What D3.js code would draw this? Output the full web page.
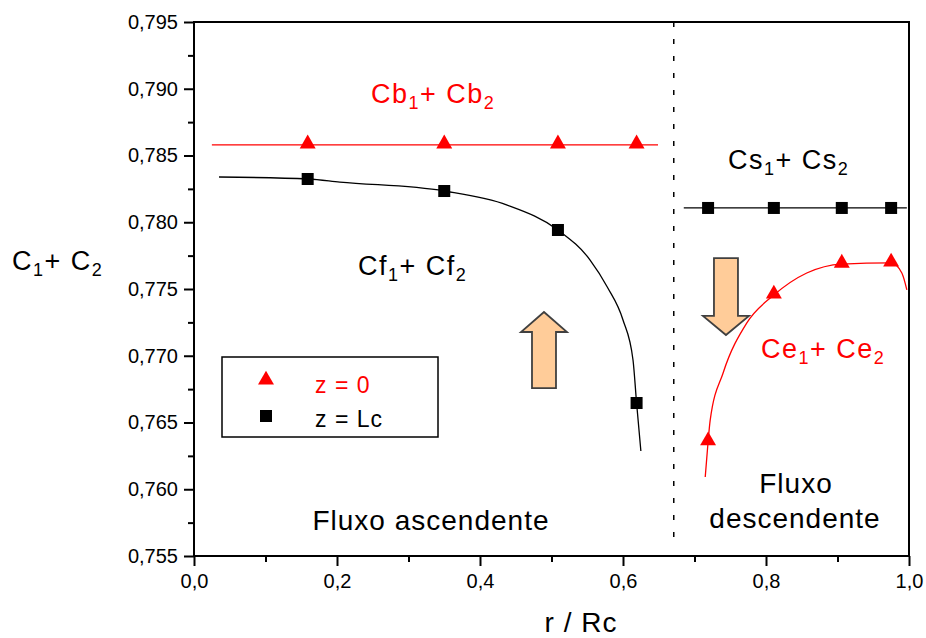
<!DOCTYPE html>
<html>
<head>
<meta charset="utf-8">
<script src="https://cdn.jsdelivr.net/npm/d3@7"></script>
<style>
  body { margin: 0; background: #fff; }
  svg { font-family: "Liberation Sans", Arial, sans-serif; }
</style>
</head>
<body>
<div id="chart"></div>
<script>
// measured points (r/Rc) and C1+C2 values
var rAsc = [0.159, 0.350, 0.509, 0.619];
var cbVals = [0.7858, 0.7858, 0.7858, 0.7858];
var cfVals = [0.78324, 0.78234, 0.77942, 0.76646];

var rDesc = [0.719, 0.811, 0.906, 0.975];
var csVals = [0.78107, 0.78107, 0.78107, 0.78107];
var ceVals = [0.76356, 0.77455, 0.77687, 0.77695];

// fitted curves as drawn in the figure
var cbFitX = [0.025, 0.649];
var cbFitY = [0.7858, 0.7858];
var cfFitX = [0.035, 0.16, 0.204, 0.350, 0.438, 0.509, 0.554, 0.578, 0.600, 0.614, 0.619, 0.625];
var cfFitY = [0.78339, 0.78324, 0.78301, 0.78234, 0.78129, 0.77942, 0.77717, 0.77515, 0.77268, 0.76968, 0.76646, 0.76287];
var csFitX = [0.685, 0.997];
var csFitY = [0.78107, 0.78107];
var ceFitX = [0.715, 0.719, 0.722, 0.740, 0.773, 0.811, 0.857, 0.906, 0.975, 0.990, 0.997];
var ceFitY = [0.76092, 0.76356, 0.76519, 0.76871, 0.77245, 0.77455, 0.7762, 0.77687, 0.77695, 0.7762, 0.77493];

var xTicks = [0, 0.2, 0.4, 0.6, 0.8, 1.0];
var yTicks = [0.755, 0.760, 0.765, 0.770, 0.775, 0.780, 0.785, 0.790, 0.795];
var rBoundary = 0.671;

var width = 926, height = 638;
var plotLeft = 194, plotRight = 909, plotTop = 22, plotBottom = 556;

var x = d3.scaleLinear().domain([0, 1]).range([plotLeft, plotRight]);
var y = d3.scaleLinear().domain([0.755, 0.795]).range([plotBottom, plotTop]);
var fmt = function(v, n) { return d3.format("." + n + "f")(v).replace(".", ","); };

var svg = d3.select("#chart").append("svg")
    .attr("width", width)
    .attr("height", height);

// dashed boundary between the two flows
svg.append("line")
    .attr("x1", x(rBoundary)).attr("x2", x(rBoundary))
    .attr("y1", plotTop).attr("y2", plotBottom - 10)
    .attr("stroke", "#000")
    .attr("stroke-width", 1.5)
    .attr("stroke-dasharray", "5,12");

// frame
svg.append("rect")
    .attr("x", plotLeft).attr("y", plotTop)
    .attr("width", plotRight - plotLeft).attr("height", plotBottom - plotTop)
    .attr("fill", "none")
    .attr("stroke", "#000")
    .attr("stroke-width", 2);

// axes
svg.append("g")
    .attr("transform", "translate(0," + plotBottom + ")")
    .call(d3.axisBottom(x).tickValues(xTicks).tickSize(10).tickPadding(8)
      .tickFormat(function(d) { return fmt(d, 1); }));
svg.append("g")
    .attr("transform", "translate(0," + plotBottom + ")")
    .call(d3.axisBottom(x).tickValues([0.1, 0.3, 0.5, 0.7, 0.9]).tickSize(6).tickFormat(""));

svg.append("g")
    .attr("transform", "translate(" + plotLeft + ",0)")
    .call(d3.axisLeft(y).tickValues(yTicks).tickSize(10).tickPadding(6)
      .tickFormat(function(d) { return fmt(d, 3); }));
svg.append("g")
    .attr("transform", "translate(" + plotLeft + ",0)")
    .call(d3.axisLeft(y).tickValues([0.7575, 0.7625, 0.7675, 0.7725, 0.7775, 0.7825, 0.7875, 0.7925]).tickSize(6).tickFormat(""));

svg.selectAll(".domain").remove();
svg.selectAll(".tick line").attr("stroke", "#000").attr("stroke-width", 2);
svg.selectAll(".tick text")
    .attr("font-family", "Liberation Sans, Arial, sans-serif")
    .attr("font-size", 20)
    .attr("fill", "#000");

// curves
var line = d3.line()
    .x(function(d) { return x(d[0]); })
    .y(function(d) { return y(d[1]); })
    .curve(d3.curveMonotoneX);

function drawFit(xs, ys, color) {
  svg.append("path")
      .datum(d3.zip(xs, ys))
      .attr("d", line)
      .attr("fill", "none")
      .attr("stroke", color)
      .attr("stroke-width", 1.3);
}
drawFit(cbFitX, cbFitY, "#ff0000");
drawFit(cfFitX, cfFitY, "#000");
drawFit(csFitX, csFitY, "#000");
drawFit(ceFitX, ceFitY, "#ff0000");

// markers
var tri = d3.symbol().type(d3.symbolTriangle).size(110);
function drawTriangles(xs, ys) {
  svg.append("g").selectAll("path")
    .data(d3.zip(xs, ys))
    .enter().append("path")
      .attr("d", tri)
      .attr("transform", function(d) { return "translate(" + x(d[0]) + "," + (y(d[1]) - 1) + ")"; })
      .attr("fill", "#ff0000");
}
function drawSquares(xs, ys) {
  svg.append("g").selectAll("rect")
    .data(d3.zip(xs, ys))
    .enter().append("rect")
      .attr("x", function(d) { return x(d[0]) - 6; })
      .attr("y", function(d) { return y(d[1]) - 6; })
      .attr("width", 12).attr("height", 12)
      .attr("fill", "#000");
}
drawTriangles(rAsc, cbVals);
drawSquares(rAsc, cfVals);
drawSquares(rDesc, csVals);
drawTriangles(rDesc, ceVals);

// flow arrows (position in data units, widths in px)
function flowArrow(cx, yTail, yHeadBase, yTip) {
  var px = x(cx), t = y(yTail), b = y(yHeadBase), p = y(yTip);
  var sw = 12, hw = 23;
  var pts = [[px - sw, t], [px + sw, t], [px + sw, b], [px + hw, b], [px, p],
             [px - hw, b], [px - sw, b]];
  svg.append("path")
      .attr("d", "M" + pts.join("L") + "Z")
      .attr("fill", "#ffcc99")
      .attr("stroke", "#404040")
      .attr("stroke-width", 1.8)
      .attr("stroke-linejoin", "miter");
}
flowArrow(0.4895, 0.76758, 0.77178, 0.77328);
flowArrow(0.744, 0.77732, 0.77298, 0.77155);

// labels with subscripts
function subLabel(px, py, parts, color) {
  var t = svg.append("text")
      .attr("x", px).attr("y", py)
      .attr("fill", color)
      .attr("font-size", 27)
      .attr("letter-spacing", 1.5);
  parts.forEach(function(p, i) {
    var sub = i % 2 === 1;
    var dy = sub ? 6 : (i > 0 ? -6 : 0);
    t.append("tspan").attr("dy", dy).attr("font-size", sub ? 18 : 27).text(p);
  });
}
subLabel(371, 103, ["Cb", "1", "+ Cb", "2"], "#ff0000");
subLabel(358, 275, ["Cf", "1", "+ Cf", "2"], "#000");
subLabel(728, 169, ["Cs", "1", "+ Cs", "2"], "#000");
subLabel(761, 358, ["Ce", "1", "+ Ce", "2"], "#ff0000");
subLabel(12, 270, ["C", "1", "+ C", "2"], "#000");

function plainLabel(px, py, s, anchor) {
  svg.append("text")
      .attr("x", px).attr("y", py)
      .attr("text-anchor", anchor)
      .attr("font-size", 28)
      .attr("letter-spacing", 1)
      .attr("fill", "#000")
      .text(s);
}
plainLabel(431, 530, "Fluxo ascendente", "middle");
plainLabel(796, 493, "Fluxo", "middle");
plainLabel(795, 528, "descendente", "middle");
plainLabel(581, 632, "r / Rc", "middle");

// legend
var legend = svg.append("g");
legend.append("rect")
    .attr("x", 222).attr("y", 357)
    .attr("width", 216).attr("height", 80)
    .attr("fill", "#fff")
    .attr("stroke", "#000")
    .attr("stroke-width", 1.5);
legend.append("path")
    .attr("d", tri)
    .attr("transform", "translate(266,380)")
    .attr("fill", "#ff0000");
legend.append("rect")
    .attr("x", 260).attr("y", 410)
    .attr("width", 12).attr("height", 12)
    .attr("fill", "#000");
legend.append("text")
    .attr("x", 315).attr("y", 393)
    .attr("font-size", 23).attr("letter-spacing", 1)
    .attr("fill", "#ff0000")
    .text("z = 0");
legend.append("text")
    .attr("x", 315).attr("y", 427)
    .attr("font-size", 23).attr("letter-spacing", 1)
    .attr("fill", "#000")
    .text("z = Lc");
</script>
</body>
</html>
